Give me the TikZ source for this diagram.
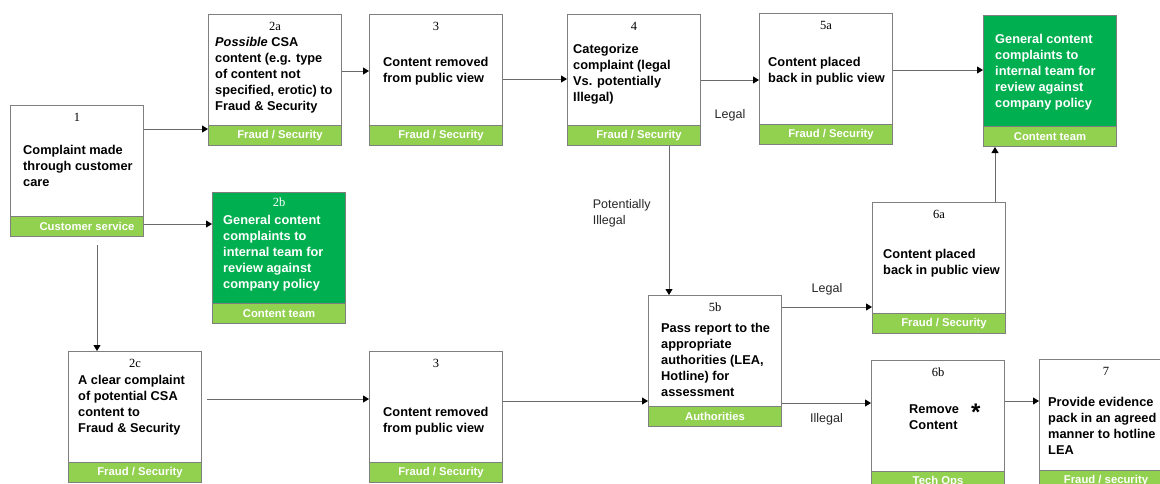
\documentclass[tikz,border=0pt]{standalone}
\usepackage{fontspec}
\setmainfont{Liberation Serif}
\setsansfont{Liberation Sans}
\usetikzlibrary{positioning, arrows.meta}
\definecolor{bandgreen}{HTML}{92D050}
\definecolor{teamgreen}{HTML}{00B050}
\definecolor{framegray}{HTML}{7F7F7F}
\definecolor{linegray}{HTML}{6A6A6A}

\tikzset{
  card/.style={draw=framegray, line width=1pt, fill=white, minimum width=133pt,
    minimum height=131pt, anchor=north west, inner sep=0pt},
  teamcard/.style={card, fill=teamgreen},
  band/.style={draw=framegray, line width=1pt, fill=bandgreen, minimum width=133pt,
    minimum height=20pt, anchor=south west, inner sep=0pt, text=white,
    font=\sffamily\bfseries\fontsize{11.3}{13}\selectfont},
  stepnum/.style={font=\fontsize{12.5}{14}\selectfont, inner sep=0pt},
  body/.style={font=\sffamily\bfseries\fontsize{12.8}{16}\selectfont, align=left, inner sep=0pt},
  flow/.style={draw=linegray, line width=0.9pt, -{Triangle[length=6pt, width=7pt, color=black]}},
  edgetext/.style={font=\sffamily\fontsize{12.5}{16}\selectfont, text=black!85, align=left, inner sep=0pt}
}

\begin{document}
\begin{tikzpicture}[x=1pt, y=-1pt]
  \clip (0,0) rectangle (1160,483);
  \fill[white] (0,0) rectangle (1160,483);

  % step 1
  \node[card] (b1) at (10,105) {};
  \node[band] (b1band) at (b1.south west) {\hspace{20pt}Customer service};
  \node[stepnum, below=8pt of b1.north] {1};
  \node[body, below right=40pt and 13pt of b1.north west] {Complaint made\\through customer\\care};

  % step 2a
  \node[card] (b2a) at (208,14) {};
  \node[band] (b2aband) at (b2a.south west) {\hspace{10pt}Fraud / Security};
  \node[stepnum, below=8pt of b2a.north] {2a};
  \node[body, below right=23pt and 7pt of b2a.north west] {\textit{Possible} CSA\\content (e.g. type\\of content not\\specified, erotic) to\\Fraud \& Security};

  % step 3 (top)
  \node[card] (b3) at (369,14) {};
  \node[band] (b3band) at (b3.south west) {\hspace{10pt}Fraud / Security};
  \node[stepnum, below=8pt of b3.north] {3};
  \node[body, below right=43pt and 14pt of b3.north west] {Content removed\\from public view};

  % step 4
  \node[card] (b4) at (567,14) {};
  \node[band] (b4band) at (b4.south west) {\hspace{10pt}Fraud / Security};
  \node[stepnum, below=8pt of b4.north] {4};
  \node[body, below right=30pt and 6pt of b4.north west] {Categorize\\complaint (legal\\Vs. potentially\\Illegal)};

  % step 5a
  \node[card] (b5a) at (759,13) {};
  \node[band] (b5aband) at (b5a.south west) {\hspace{10pt}Fraud / Security};
  \node[stepnum, below=8pt of b5a.north] {5a};
  \node[body, below right=44pt and 9pt of b5a.north west] {Content placed\\back in public view};

  % content team (top right)
  \node[teamcard] (bct) at (983,15) {};
  \node[band] (bctband) at (bct.south west) {Content team};
  \node[body, text=white, below right=19pt and 12pt of bct.north west] {General content\\complaints to\\internal team for\\review against\\company policy};

  % step 2b
  \node[teamcard] (b2b) at (212,192) {};
  \node[band] (b2bband) at (b2b.south west) {Content team};
  \node[stepnum, text=white, below=6pt of b2b.north] {2b};
  \node[body, text=white, below right=23pt and 11pt of b2b.north west] {General content\\complaints to\\internal team for\\review against\\company policy};

  % step 2c
  \node[card] (b2c) at (68,351) {};
  \node[band] (b2cband) at (b2c.south west) {\hspace{10pt}Fraud / Security};
  \node[stepnum, below=8pt of b2c.north] {2c};
  \node[body, below right=24pt and 10pt of b2c.north west] {A clear complaint\\of potential CSA\\content to\\Fraud \& Security};

  % step 3 (bottom)
  \node[card] (b3low) at (369,351) {};
  \node[band] (b3lowband) at (b3low.south west) {\hspace{10pt}Fraud / Security};
  \node[stepnum, below=8pt of b3low.north] {3};
  \node[body, below right=56pt and 14pt of b3low.north west] {Content removed\\from public view};

  % step 5b
  \node[card] (b5b) at (648,295) {};
  \node[band] (b5bband) at (b5b.south west) {Authorities};
  \node[stepnum, below=8pt of b5b.north] {5b};
  \node[body, below right=28pt and 13pt of b5b.north west] {Pass report to the\\appropriate\\authorities (LEA,\\Hotline) for\\assessment};

  % step 6a
  \node[card] (b6a) at (872,202) {};
  \node[band] (b6aband) at (b6a.south west) {\hspace{10pt}Fraud / Security};
  \node[stepnum, below=8pt of b6a.north] {6a};
  \node[body, below right=47pt and 11pt of b6a.north west] {Content placed\\back in public view};

  % step 6b
  \node[card] (b6b) at (871,360) {};
  \node[band] (b6bband) at (b6b.south west) {Tech Ops};
  \node[stepnum, below=8pt of b6b.north] {6b};
  \node[body, below right=44pt and 38pt of b6b.north west] {Remove\hspace{12pt}\raisebox{-7pt}{\fontsize{24}{16}\selectfont *}\\Content};

  % step 7
  \node[card] (b7) at (1039,359) {};
  \node[band] (b7band) at (b7.south west) {Fraud / security};
  \node[stepnum, below=8pt of b7.north] {7};
  \node[body, below right=38pt and 9pt of b7.north west] {Provide evidence\\pack in an agreed\\manner to hotline\\LEA};

  % connectors
  \draw[flow] (b1.east |- 0,129) -- (b2a.west |- 0,129);
  \draw[flow] (b1band.east |- 0,224) -- (b2b.west |- 0,224);
  \draw[flow] ([xshift=20pt, yshift=-8pt]b1band.south) -- ([xshift=20pt]b1band.south |- b2c.north);
  \draw[flow] (b2a.east |- 0,71) -- (b3.west |- 0,71);
  \draw[flow] (b3.east |- 0,79) -- (b4.west |- 0,79);
  \draw[flow] (b4.east |- 0,80) -- node[edgetext, below=29pt] {Legal} (b5a.west |- 0,80);
  \draw[flow] (b5a.east |- 0,70) -- (bct.west |- 0,70);
  \draw[flow] (b4band.south -| 669,0) -- node[edgetext, pos=0.45, left=18pt] {Potentially\\Illegal} (b5b.north -| 669,0);
  \draw[flow] (b5b.east |- 0,307) -- node[edgetext, above=11pt] {Legal} (b6a.west |- 0,307);
  \draw[flow] (b5b.east |- 0,403) -- node[edgetext, below=10pt] {Illegal} (b6b.west |- 0,403);
  \draw[flow] (b6a.north -| 995,0) -- (bctband.south -| 995,0);
  \draw[flow] (b6b.east |- 0,401) -- (b7.west |- 0,401);
  \draw[flow] ([xshift=5pt]b2c.east |- 0,399) -- (b3low.west |- 0,399);
  \draw[flow] (b3low.east |- 0,401) -- (b5b.west |- 0,401);
\end{tikzpicture}
\end{document}
